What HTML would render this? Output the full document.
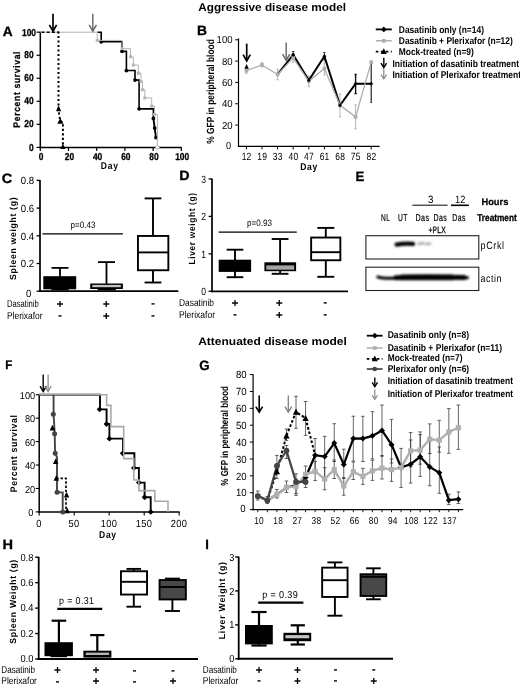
<!DOCTYPE html>
<html lang="en">
<head>
<meta charset="utf-8">
<title>Dasatinib and Plerixafor in aggressive and attenuated disease models</title>
<style>
html,body{margin:0;padding:0;background:#fff;}
svg{display:block;font-family:'Liberation Sans', sans-serif;text-rendering:geometricPrecision;filter:grayscale(1);}
</style>
</head>
<body>
<svg width="520" height="688" viewBox="0 0 520 688" font-family="'Liberation Sans', sans-serif">
<rect x="0" y="0" width="520" height="688" fill="#fff"/>
<text transform="translate(198.20 11.40) scale(1.0519 1)" font-size="11.2" font-weight="bold">Aggressive disease model</text>
<text transform="translate(198.20 345.20) scale(1.0901 1)" font-size="11.0" font-weight="bold">Attenuated disease model</text>
<text transform="translate(2.70 35.70) scale(1.0154 1)" font-size="13.5" font-weight="bold" stroke="#000" stroke-width="0.3">A</text>
<text transform="translate(197.00 35.30) scale(1.0257 1)" font-size="13.5" font-weight="bold" stroke="#000" stroke-width="0.3">B</text>
<text transform="translate(1.70 183.00) scale(1.0770 1)" font-size="13.5" font-weight="bold" stroke="#000" stroke-width="0.3">C</text>
<text transform="translate(179.20 180.30) scale(1.0565 1)" font-size="13.5" font-weight="bold" stroke="#000" stroke-width="0.3">D</text>
<text transform="translate(355.40 181.30) scale(0.9772 1)" font-size="13.5" font-weight="bold" stroke="#000" stroke-width="0.3">E</text>
<text transform="translate(5.20 368.90) scale(0.9241 1)" font-size="12.4" font-weight="bold" stroke="#000" stroke-width="0.3">F</text>
<text transform="translate(199.30 370.10) scale(0.9904 1)" font-size="13.5" font-weight="bold" stroke="#000" stroke-width="0.3">G</text>
<text transform="translate(2.60 548.80) scale(1.0770 1)" font-size="13.5" font-weight="bold" stroke="#000" stroke-width="0.3">H</text>
<text transform="translate(205.20 548.80) scale(0.9599 1)" font-size="13.5" font-weight="bold" stroke="#000" stroke-width="0.3">I</text>
<line x1="40.30" y1="31.70" x2="40.30" y2="148.15" stroke="#000" stroke-width="1.5"/>
<line x1="39.55" y1="147.40" x2="181.80" y2="147.40" stroke="#000" stroke-width="1.5"/>
<line x1="36.60" y1="147.40" x2="40.30" y2="147.40" stroke="#000" stroke-width="1.2"/>
<text transform="translate(33.70 150.90) scale(0.8400 1)" font-size="10.0" font-weight="bold" text-anchor="end" stroke="#000" stroke-width="0.3">0</text>
<line x1="36.60" y1="124.36" x2="40.30" y2="124.36" stroke="#000" stroke-width="1.2"/>
<text transform="translate(33.70 127.36) scale(0.8400 1)" font-size="10.0" font-weight="bold" text-anchor="end" stroke="#000" stroke-width="0.3">20</text>
<line x1="36.60" y1="101.32" x2="40.30" y2="101.32" stroke="#000" stroke-width="1.2"/>
<text transform="translate(33.70 104.32) scale(0.8400 1)" font-size="10.0" font-weight="bold" text-anchor="end" stroke="#000" stroke-width="0.3">40</text>
<line x1="36.60" y1="78.28" x2="40.30" y2="78.28" stroke="#000" stroke-width="1.2"/>
<text transform="translate(33.70 81.28) scale(0.8400 1)" font-size="10.0" font-weight="bold" text-anchor="end" stroke="#000" stroke-width="0.3">60</text>
<line x1="36.60" y1="55.24" x2="40.30" y2="55.24" stroke="#000" stroke-width="1.2"/>
<text transform="translate(33.70 58.24) scale(0.8400 1)" font-size="10.0" font-weight="bold" text-anchor="end" stroke="#000" stroke-width="0.3">80</text>
<line x1="36.60" y1="32.20" x2="40.30" y2="32.20" stroke="#000" stroke-width="1.2"/>
<text transform="translate(36.00 35.70) scale(0.8400 1)" font-size="10.0" font-weight="bold" text-anchor="end" stroke="#000" stroke-width="0.3">100</text>
<line x1="40.30" y1="147.40" x2="40.30" y2="151.00" stroke="#000" stroke-width="1.2"/>
<text transform="translate(41.20 160.20) scale(0.8400 1)" font-size="10.0" font-weight="bold" text-anchor="middle" stroke="#000" stroke-width="0.3">0</text>
<line x1="68.50" y1="147.40" x2="68.50" y2="151.00" stroke="#000" stroke-width="1.2"/>
<text transform="translate(69.40 160.20) scale(0.8400 1)" font-size="10.0" font-weight="bold" text-anchor="middle" stroke="#000" stroke-width="0.3">20</text>
<line x1="96.70" y1="147.40" x2="96.70" y2="151.00" stroke="#000" stroke-width="1.2"/>
<text transform="translate(97.60 160.20) scale(0.8400 1)" font-size="10.0" font-weight="bold" text-anchor="middle" stroke="#000" stroke-width="0.3">40</text>
<line x1="124.90" y1="147.40" x2="124.90" y2="151.00" stroke="#000" stroke-width="1.2"/>
<text transform="translate(125.80 160.20) scale(0.8400 1)" font-size="10.0" font-weight="bold" text-anchor="middle" stroke="#000" stroke-width="0.3">60</text>
<line x1="153.10" y1="147.40" x2="153.10" y2="151.00" stroke="#000" stroke-width="1.2"/>
<text transform="translate(154.00 160.20) scale(0.8400 1)" font-size="10.0" font-weight="bold" text-anchor="middle" stroke="#000" stroke-width="0.3">80</text>
<line x1="181.30" y1="147.40" x2="181.30" y2="151.00" stroke="#000" stroke-width="1.2"/>
<text transform="translate(182.20 160.20) scale(0.8400 1)" font-size="10.0" font-weight="bold" text-anchor="middle" stroke="#000" stroke-width="0.3">100</text>
<text transform="translate(109.70 169.30) scale(0.8735 1)" font-size="9.8" font-weight="bold" text-anchor="middle" letter-spacing="0.8">Day</text>
<text transform="translate(19.50 89.30) rotate(-90) scale(0.8995 1)" font-size="9.6" font-weight="bold" text-anchor="middle" letter-spacing="0.7" stroke="#000" stroke-width="0.2">Percent survival</text>
<polyline points="97.40,32.20 101.20,32.20 101.20,41.78 122.00,41.78 122.00,51.37 126.40,51.37 126.40,70.53 135.00,70.53 135.00,80.12 139.10,80.12 139.10,108.87 153.40,108.87 153.40,118.45" fill="none" stroke="#000" stroke-width="1.6" stroke-linejoin="miter"/>
<polyline points="153.40,118.45 154.70,128.03 156.00,137.62" fill="none" stroke="#000" stroke-width="1.9" stroke-linejoin="miter"/>
<circle cx="101.20" cy="41.78" r="1.9" fill="#000"/>
<circle cx="122.00" cy="51.37" r="1.9" fill="#000"/>
<circle cx="126.40" cy="70.53" r="1.9" fill="#000"/>
<circle cx="135.00" cy="80.12" r="1.9" fill="#000"/>
<circle cx="139.10" cy="108.87" r="1.9" fill="#000"/>
<circle cx="153.40" cy="118.45" r="1.9" fill="#000"/>
<circle cx="154.70" cy="128.03" r="1.9" fill="#000"/>
<circle cx="156.00" cy="137.62" r="1.9" fill="#000"/>
<polyline points="40.30,32.20 97.20,32.20 97.20,40.41 122.10,40.41 122.10,48.63 130.50,48.63 130.50,56.84 133.30,56.84 133.30,65.06 138.40,65.06 138.40,73.27 141.00,73.27 141.00,81.49 142.40,81.49 142.40,89.70 144.80,89.70 144.80,97.91 151.70,97.91 151.70,106.13 154.50,106.13 154.50,114.34 157.40,114.34 157.40,147.20" fill="none" stroke="#b4b4b4" stroke-width="1.0" stroke-linejoin="miter"/>
<rect x="95.70" y="38.91" width="3.00" height="3.00" fill="#b4b4b4"/>
<rect x="120.60" y="47.13" width="3.00" height="3.00" fill="#b4b4b4"/>
<rect x="129.00" y="55.34" width="3.00" height="3.00" fill="#b4b4b4"/>
<rect x="131.80" y="63.56" width="3.00" height="3.00" fill="#b4b4b4"/>
<rect x="136.90" y="71.77" width="3.00" height="3.00" fill="#b4b4b4"/>
<rect x="139.50" y="79.99" width="3.00" height="3.00" fill="#b4b4b4"/>
<rect x="140.90" y="88.20" width="3.00" height="3.00" fill="#b4b4b4"/>
<rect x="143.30" y="96.41" width="3.00" height="3.00" fill="#b4b4b4"/>
<rect x="150.20" y="104.63" width="3.00" height="3.00" fill="#b4b4b4"/>
<rect x="153.00" y="112.84" width="3.00" height="3.00" fill="#b4b4b4"/>
<circle cx="157.4" cy="147.4" r="1.8" fill="#fff" stroke="#b4b4b4" stroke-width="1"/>
<polyline points="41.50,32.20 58.50,32.20" fill="none" stroke="#000" stroke-width="1.6" stroke-linejoin="miter" stroke-dasharray="3 2.2"/>
<polyline points="58.50,31.40 58.50,110.50 60.30,121.00 62.90,122.60 62.90,147.40" fill="none" stroke="#000" stroke-width="2.0" stroke-linejoin="miter" stroke-dasharray="2.2 2.3"/>
<polygon points="58.60,105.15 61.20,111.35 56.00,111.35" fill="#000"/>
<polygon points="60.30,118.07 63.30,123.87 57.30,123.87" fill="#000"/>
<polygon points="62.90,143.79 65.50,148.99 60.30,148.99" fill="#000"/>
<line x1="53.00" y1="13.80" x2="53.00" y2="30.40" stroke="#000" stroke-width="1.7"/>
<polyline points="49.40,24.90 53.00,31.20 56.60,24.90" fill="none" stroke="#000" stroke-width="1.7" stroke-linejoin="miter"/>
<line x1="92.80" y1="13.80" x2="92.80" y2="30.40" stroke="#6c6c6c" stroke-width="1.5"/>
<polyline points="89.20,24.90 92.80,31.20 96.40,24.90" fill="none" stroke="#6c6c6c" stroke-width="1.5" stroke-linejoin="miter"/>
<line x1="238.50" y1="38.40" x2="238.50" y2="147.00" stroke="#000" stroke-width="1.2"/>
<line x1="237.90" y1="146.40" x2="379.60" y2="146.40" stroke="#000" stroke-width="1.3"/>
<line x1="235.20" y1="125.08" x2="238.50" y2="125.08" stroke="#000" stroke-width="1"/>
<text transform="translate(232.60 128.58) scale(0.9400 1)" font-size="10.2" text-anchor="end">20</text>
<line x1="235.20" y1="103.76" x2="238.50" y2="103.76" stroke="#000" stroke-width="1"/>
<text transform="translate(232.60 107.26) scale(0.9400 1)" font-size="10.2" text-anchor="end">40</text>
<line x1="235.20" y1="82.44" x2="238.50" y2="82.44" stroke="#000" stroke-width="1"/>
<text transform="translate(232.60 85.94) scale(0.9400 1)" font-size="10.2" text-anchor="end">60</text>
<line x1="235.20" y1="61.12" x2="238.50" y2="61.12" stroke="#000" stroke-width="1"/>
<text transform="translate(232.60 64.62) scale(0.9400 1)" font-size="10.2" text-anchor="end">80</text>
<line x1="235.20" y1="39.80" x2="238.50" y2="39.80" stroke="#000" stroke-width="1"/>
<text transform="translate(232.60 43.30) scale(0.9400 1)" font-size="10.2" text-anchor="end">100</text>
<text transform="translate(231.00 148.70) scale(0.9000 1)" font-size="10.2" text-anchor="end">0</text>
<line x1="246.40" y1="146.40" x2="246.40" y2="149.40" stroke="#000" stroke-width="1.0"/>
<text transform="translate(246.60 160.30) scale(0.8062 1)" font-size="10.5" text-anchor="middle" letter-spacing="0.3">12</text>
<line x1="262.00" y1="146.40" x2="262.00" y2="149.40" stroke="#000" stroke-width="1.0"/>
<text transform="translate(262.20 160.30) scale(0.8062 1)" font-size="10.5" text-anchor="middle" letter-spacing="0.3">19</text>
<line x1="277.60" y1="146.40" x2="277.60" y2="149.40" stroke="#000" stroke-width="1.0"/>
<text transform="translate(277.80 160.30) scale(0.8062 1)" font-size="10.5" text-anchor="middle" letter-spacing="0.3">33</text>
<line x1="293.20" y1="146.40" x2="293.20" y2="149.40" stroke="#000" stroke-width="1.0"/>
<text transform="translate(293.40 160.30) scale(0.8062 1)" font-size="10.5" text-anchor="middle" letter-spacing="0.3">40</text>
<line x1="308.80" y1="146.40" x2="308.80" y2="149.40" stroke="#000" stroke-width="1.0"/>
<text transform="translate(309.00 160.30) scale(0.8062 1)" font-size="10.5" text-anchor="middle" letter-spacing="0.3">47</text>
<line x1="324.40" y1="146.40" x2="324.40" y2="149.40" stroke="#000" stroke-width="1.0"/>
<text transform="translate(324.60 160.30) scale(0.8062 1)" font-size="10.5" text-anchor="middle" letter-spacing="0.3">61</text>
<line x1="340.00" y1="146.40" x2="340.00" y2="149.40" stroke="#000" stroke-width="1.0"/>
<text transform="translate(340.20 160.30) scale(0.8062 1)" font-size="10.5" text-anchor="middle" letter-spacing="0.3">68</text>
<line x1="355.60" y1="146.40" x2="355.60" y2="149.40" stroke="#000" stroke-width="1.0"/>
<text transform="translate(355.80 160.30) scale(0.8062 1)" font-size="10.5" text-anchor="middle" letter-spacing="0.3">75</text>
<line x1="371.20" y1="146.40" x2="371.20" y2="149.40" stroke="#000" stroke-width="1.0"/>
<text transform="translate(371.40 160.30) scale(0.8062 1)" font-size="10.5" text-anchor="middle" letter-spacing="0.3">82</text>
<text transform="translate(309.10 170.20) scale(0.8735 1)" font-size="9.8" font-weight="bold" text-anchor="middle" letter-spacing="0.8">Day</text>
<text transform="translate(214.40 91.50) rotate(-90) scale(0.8057 1)" font-size="10.4" font-weight="bold" text-anchor="middle">% GFP in peripheral blood</text>
<line x1="246.40" y1="68.05" x2="246.40" y2="73.38" stroke="#adadad" stroke-width="0.9"/>
<line x1="245.20" y1="68.05" x2="247.60" y2="68.05" stroke="#adadad" stroke-width="0.9"/>
<line x1="245.20" y1="73.38" x2="247.60" y2="73.38" stroke="#adadad" stroke-width="0.9"/>
<line x1="262.00" y1="62.72" x2="262.00" y2="66.98" stroke="#adadad" stroke-width="0.9"/>
<line x1="260.80" y1="62.72" x2="263.20" y2="62.72" stroke="#adadad" stroke-width="0.9"/>
<line x1="260.80" y1="66.98" x2="263.20" y2="66.98" stroke="#adadad" stroke-width="0.9"/>
<line x1="277.60" y1="69.11" x2="277.60" y2="79.78" stroke="#adadad" stroke-width="0.9"/>
<line x1="276.40" y1="69.11" x2="278.80" y2="69.11" stroke="#adadad" stroke-width="0.9"/>
<line x1="276.40" y1="79.78" x2="278.80" y2="79.78" stroke="#adadad" stroke-width="0.9"/>
<line x1="293.20" y1="53.66" x2="293.20" y2="62.19" stroke="#adadad" stroke-width="0.9"/>
<line x1="292.00" y1="53.66" x2="294.40" y2="53.66" stroke="#adadad" stroke-width="0.9"/>
<line x1="292.00" y1="62.19" x2="294.40" y2="62.19" stroke="#adadad" stroke-width="0.9"/>
<line x1="308.80" y1="76.04" x2="308.80" y2="86.70" stroke="#adadad" stroke-width="0.9"/>
<line x1="307.60" y1="76.04" x2="310.00" y2="76.04" stroke="#adadad" stroke-width="0.9"/>
<line x1="307.60" y1="86.70" x2="310.00" y2="86.70" stroke="#adadad" stroke-width="0.9"/>
<line x1="324.40" y1="62.19" x2="324.40" y2="74.98" stroke="#adadad" stroke-width="0.9"/>
<line x1="323.20" y1="62.19" x2="325.60" y2="62.19" stroke="#adadad" stroke-width="0.9"/>
<line x1="323.20" y1="74.98" x2="325.60" y2="74.98" stroke="#adadad" stroke-width="0.9"/>
<line x1="340.00" y1="93.95" x2="340.00" y2="116.77" stroke="#adadad" stroke-width="0.9"/>
<line x1="338.80" y1="93.95" x2="341.20" y2="93.95" stroke="#adadad" stroke-width="0.9"/>
<line x1="338.80" y1="116.77" x2="341.20" y2="116.77" stroke="#adadad" stroke-width="0.9"/>
<line x1="355.60" y1="104.93" x2="355.60" y2="128.81" stroke="#adadad" stroke-width="0.9"/>
<line x1="354.40" y1="104.93" x2="356.80" y2="104.93" stroke="#adadad" stroke-width="0.9"/>
<line x1="354.40" y1="128.81" x2="356.80" y2="128.81" stroke="#adadad" stroke-width="0.9"/>
<line x1="293.20" y1="51.53" x2="293.20" y2="57.92" stroke="#222" stroke-width="0.9"/>
<line x1="292.00" y1="51.53" x2="294.40" y2="51.53" stroke="#222" stroke-width="0.9"/>
<line x1="292.00" y1="57.92" x2="294.40" y2="57.92" stroke="#222" stroke-width="0.9"/>
<line x1="324.40" y1="52.59" x2="324.40" y2="60.05" stroke="#222" stroke-width="0.9"/>
<line x1="323.20" y1="52.59" x2="325.60" y2="52.59" stroke="#222" stroke-width="0.9"/>
<line x1="323.20" y1="60.05" x2="325.60" y2="60.05" stroke="#222" stroke-width="0.9"/>
<line x1="355.60" y1="74.40" x2="355.60" y2="93.60" stroke="#111" stroke-width="1.4"/>
<line x1="354.50" y1="74.40" x2="356.70" y2="74.40" stroke="#111" stroke-width="1.4"/>
<line x1="354.50" y1="93.60" x2="356.70" y2="93.60" stroke="#111" stroke-width="1.4"/>
<line x1="371.20" y1="61.90" x2="371.20" y2="102.50" stroke="#111" stroke-width="1.1"/>
<line x1="370.60" y1="61.90" x2="371.80" y2="61.90" stroke="#111" stroke-width="1.1"/>
<line x1="370.60" y1="102.50" x2="371.80" y2="102.50" stroke="#111" stroke-width="1.1"/>
<polyline points="277.60,74.45 293.20,54.72 308.80,80.31 324.40,56.22 340.00,105.36 355.60,83.72 371.20,83.72" fill="none" stroke="#000" stroke-width="2.0" stroke-linejoin="miter"/>
<polyline points="246.40,70.71 262.00,64.85 277.60,74.45 293.20,57.92 308.80,81.37 324.40,68.58 340.00,105.36 355.60,116.87 371.20,62.19" fill="none" stroke="#adadad" stroke-width="1.3" stroke-linejoin="miter"/>
<rect x="244.60" y="68.91" width="3.60" height="3.60" fill="#adadad"/>
<rect x="260.20" y="63.05" width="3.60" height="3.60" fill="#adadad"/>
<rect x="275.80" y="72.65" width="3.60" height="3.60" fill="#adadad"/>
<rect x="291.40" y="56.12" width="3.60" height="3.60" fill="#adadad"/>
<rect x="307.00" y="79.57" width="3.60" height="3.60" fill="#adadad"/>
<rect x="322.60" y="66.78" width="3.60" height="3.60" fill="#adadad"/>
<rect x="338.20" y="103.56" width="3.60" height="3.60" fill="#adadad"/>
<rect x="353.80" y="115.07" width="3.60" height="3.60" fill="#adadad"/>
<rect x="369.40" y="60.39" width="3.60" height="3.60" fill="#adadad"/>
<polygon points="293.20,52.72 295.20,54.72 293.20,56.72 291.20,54.72" fill="#000"/>
<polygon points="308.80,78.31 310.80,80.31 308.80,82.31 306.80,80.31" fill="#000"/>
<polygon points="324.40,54.22 326.40,56.22 324.40,58.22 322.40,56.22" fill="#000"/>
<polygon points="340.00,103.36 342.00,105.36 340.00,107.36 338.00,105.36" fill="#000"/>
<polygon points="355.60,81.72 357.60,83.72 355.60,85.72 353.60,83.72" fill="#000"/>
<polygon points="371.20,81.72 373.20,83.72 371.20,85.72 369.20,83.72" fill="#000"/>
<polygon points="246.60,63.99 248.80,68.83 244.40,68.83" fill="#000"/>
<line x1="246.70" y1="43.60" x2="246.70" y2="60.20" stroke="#000" stroke-width="1.7"/>
<polyline points="243.10,54.70 246.70,61.00 250.30,54.70" fill="none" stroke="#000" stroke-width="1.7" stroke-linejoin="miter"/>
<line x1="286.20" y1="42.60" x2="286.20" y2="59.60" stroke="#6c6c6c" stroke-width="1.5"/>
<polyline points="282.60,54.10 286.20,60.40 289.80,54.10" fill="none" stroke="#6c6c6c" stroke-width="1.5" stroke-linejoin="miter"/>
<line x1="375.80" y1="29.40" x2="391.80" y2="29.40" stroke="#000" stroke-width="1.8"/>
<polygon points="383.80,26.50 386.70,29.40 383.80,32.30 380.90,29.40" fill="#000"/>
<line x1="375.80" y1="40.80" x2="391.80" y2="40.80" stroke="#adadad" stroke-width="1.5"/>
<rect x="382.00" y="39.00" width="3.60" height="3.60" fill="#adadad"/>
<line x1="375.80" y1="51.60" x2="391.80" y2="51.60" stroke="#000" stroke-width="1.7" stroke-dasharray="2.6 2.4"/>
<polygon points="383.80,48.27 386.80,54.07 380.80,54.07" fill="#000"/>
<text transform="translate(398.80 33.00) scale(0.8620 1)" font-size="9.8" font-weight="bold">Dasatinib only (n=14)</text>
<text transform="translate(398.80 44.40) scale(0.8613 1)" font-size="9.8" font-weight="bold">Dasatinib + Plerixafor (n=12)</text>
<text transform="translate(398.80 55.40) scale(0.8581 1)" font-size="9.8" font-weight="bold">Mock-treated (n=9)</text>
<line x1="383.80" y1="57.80" x2="383.80" y2="66.80" stroke="#000" stroke-width="1.4"/>
<polyline points="381.00,63.20 383.80,67.60 386.60,63.20" fill="none" stroke="#000" stroke-width="1.4" stroke-linejoin="miter"/>
<line x1="383.80" y1="69.00" x2="383.80" y2="78.20" stroke="#888" stroke-width="1.2"/>
<polyline points="381.00,74.60 383.80,79.00 386.60,74.60" fill="none" stroke="#888" stroke-width="1.2" stroke-linejoin="miter"/>
<text transform="translate(392.50 66.60) scale(0.8669 1)" font-size="9.8" font-weight="bold">Initiation of dasatinib treatment</text>
<text transform="translate(392.50 78.00) scale(0.8676 1)" font-size="9.8" font-weight="bold">Initiation of Plerixafor treatment</text>
<line x1="40.00" y1="180.00" x2="40.00" y2="292.05" stroke="#000" stroke-width="1.7"/>
<line x1="39.15" y1="291.20" x2="178.30" y2="291.20" stroke="#000" stroke-width="1.7"/>
<line x1="36.60" y1="263.50" x2="40.00" y2="263.50" stroke="#000" stroke-width="1.3"/>
<text transform="translate(34.20 267.20) scale(0.9268 1)" font-size="10.4" text-anchor="end">0.2</text>
<line x1="36.60" y1="235.80" x2="40.00" y2="235.80" stroke="#000" stroke-width="1.3"/>
<text transform="translate(34.20 239.50) scale(0.9268 1)" font-size="10.4" text-anchor="end">0.4</text>
<line x1="36.60" y1="208.10" x2="40.00" y2="208.10" stroke="#000" stroke-width="1.3"/>
<text transform="translate(34.20 211.80) scale(0.9268 1)" font-size="10.4" text-anchor="end">0.6</text>
<line x1="36.60" y1="180.40" x2="40.00" y2="180.40" stroke="#000" stroke-width="1.3"/>
<text transform="translate(34.20 184.10) scale(0.9268 1)" font-size="10.4" text-anchor="end">0.8</text>
<line x1="36.60" y1="291.20" x2="40.00" y2="291.20" stroke="#000" stroke-width="1.3"/>
<text transform="translate(28.60 297.30) scale(0.9200 1)" font-size="10.4" text-anchor="middle">0</text>
<text transform="translate(16.40 238.40) rotate(-90) scale(0.9746 1)" font-size="8.9" font-weight="bold" text-anchor="middle" letter-spacing="0.7">Spleen weight (g)</text>
<line x1="42.40" y1="233.90" x2="122.90" y2="233.90" stroke="#000" stroke-width="1.3"/>
<text transform="translate(83.00 228.20) scale(0.8804 1)" font-size="9.2" text-anchor="middle">p=0.43</text>
<line x1="60.00" y1="267.90" x2="60.00" y2="277.20" stroke="#000" stroke-width="1.8"/>
<line x1="51.50" y1="267.90" x2="68.50" y2="267.90" stroke="#000" stroke-width="1.8"/>
<rect x="44.20" y="277.10" width="31.10" height="11.30" fill="#000" stroke="#000" stroke-width="1.8"/>
<line x1="51.40" y1="289.70" x2="68.60" y2="289.70" stroke="#000" stroke-width="1.4"/>
<line x1="106.50" y1="262.10" x2="106.50" y2="284.50" stroke="#000" stroke-width="1.8"/>
<line x1="98.00" y1="262.10" x2="115.00" y2="262.10" stroke="#000" stroke-width="1.8"/>
<rect x="90.20" y="283.50" width="32.70" height="5.50" fill="#000"/>
<rect x="92.30" y="284.90" width="28.50" height="2.30" fill="#c4c4c4"/>
<line x1="97.60" y1="289.70" x2="115.80" y2="289.70" stroke="#000" stroke-width="1.4"/>
<line x1="153.00" y1="198.40" x2="153.00" y2="236.00" stroke="#000" stroke-width="1.9"/>
<line x1="144.60" y1="198.40" x2="161.40" y2="198.40" stroke="#000" stroke-width="1.9"/>
<line x1="153.00" y1="270.20" x2="153.00" y2="282.50" stroke="#000" stroke-width="1.9"/>
<line x1="144.60" y1="282.50" x2="161.40" y2="282.50" stroke="#000" stroke-width="1.9"/>
<rect x="137.95" y="235.95" width="30.40" height="34.30" fill="#fff" stroke="#000" stroke-width="1.9"/>
<line x1="137.95" y1="252.40" x2="168.35" y2="252.40" stroke="#000" stroke-width="1.9"/>
<text transform="translate(7.00 306.80) scale(0.7628 1)" font-size="10">Dasatinib</text>
<text transform="translate(7.00 318.60) scale(0.8405 1)" font-size="10">Plerixafor</text>
<text transform="translate(60.00 308.00)" font-size="12.0" font-weight="bold" text-anchor="middle">+</text>
<text transform="translate(60.00 319.10)" font-size="12.0" font-weight="bold" text-anchor="middle">-</text>
<text transform="translate(106.30 308.00)" font-size="12.0" font-weight="bold" text-anchor="middle">+</text>
<text transform="translate(106.30 319.80)" font-size="12.0" font-weight="bold" text-anchor="middle">+</text>
<text transform="translate(153.00 307.30)" font-size="12.0" font-weight="bold" text-anchor="middle">-</text>
<text transform="translate(153.00 319.10)" font-size="12.0" font-weight="bold" text-anchor="middle">-</text>
<line x1="212.00" y1="178.55" x2="212.00" y2="292.15" stroke="#000" stroke-width="1.7"/>
<line x1="211.15" y1="291.30" x2="348.00" y2="291.30" stroke="#000" stroke-width="1.7"/>
<line x1="208.60" y1="291.30" x2="212.00" y2="291.30" stroke="#000" stroke-width="1.3"/>
<text transform="translate(203.60 295.00) scale(0.8200 1)" font-size="10.4" text-anchor="middle">0</text>
<line x1="208.60" y1="253.85" x2="212.00" y2="253.85" stroke="#000" stroke-width="1.3"/>
<text transform="translate(203.60 257.55) scale(0.8200 1)" font-size="10.4" text-anchor="middle">1</text>
<line x1="208.60" y1="216.40" x2="212.00" y2="216.40" stroke="#000" stroke-width="1.3"/>
<text transform="translate(203.60 220.10) scale(0.8200 1)" font-size="10.4" text-anchor="middle">2</text>
<line x1="208.60" y1="178.95" x2="212.00" y2="178.95" stroke="#000" stroke-width="1.3"/>
<text transform="translate(203.60 182.65) scale(0.8200 1)" font-size="10.4" text-anchor="middle">3</text>
<text transform="translate(194.60 228.40) rotate(-90) scale(0.9292 1)" font-size="9.0" font-weight="bold" text-anchor="middle" letter-spacing="0.7">Liver weight (g)</text>
<line x1="218.70" y1="232.10" x2="296.80" y2="232.10" stroke="#000" stroke-width="1.3"/>
<text transform="translate(259.50 226.40) scale(0.8804 1)" font-size="9.2" text-anchor="middle">p=0.93</text>
<line x1="235.00" y1="249.70" x2="235.00" y2="260.70" stroke="#000" stroke-width="1.9"/>
<line x1="226.70" y1="249.70" x2="243.30" y2="249.70" stroke="#000" stroke-width="1.9"/>
<line x1="235.00" y1="270.90" x2="235.00" y2="277.20" stroke="#000" stroke-width="1.9"/>
<line x1="226.70" y1="277.20" x2="243.30" y2="277.20" stroke="#000" stroke-width="1.9"/>
<rect x="219.65" y="260.65" width="30.50" height="10.30" fill="#000" stroke="#000" stroke-width="1.9"/>
<line x1="280.10" y1="239.00" x2="280.10" y2="263.30" stroke="#000" stroke-width="1.9"/>
<line x1="271.70" y1="239.00" x2="288.50" y2="239.00" stroke="#000" stroke-width="1.9"/>
<line x1="280.10" y1="270.20" x2="280.10" y2="273.80" stroke="#000" stroke-width="1.9"/>
<line x1="271.70" y1="273.80" x2="288.50" y2="273.80" stroke="#000" stroke-width="1.9"/>
<rect x="264.40" y="262.30" width="31.70" height="8.90" fill="#000"/>
<rect x="266.30" y="265.40" width="27.90" height="4.30" fill="#a4a4a4"/>
<line x1="325.80" y1="227.90" x2="325.80" y2="237.60" stroke="#000" stroke-width="1.9"/>
<line x1="317.30" y1="227.90" x2="334.30" y2="227.90" stroke="#000" stroke-width="1.9"/>
<line x1="325.80" y1="260.20" x2="325.80" y2="276.80" stroke="#000" stroke-width="1.9"/>
<line x1="317.30" y1="276.80" x2="334.30" y2="276.80" stroke="#000" stroke-width="1.9"/>
<rect x="311.15" y="237.55" width="29.20" height="22.70" fill="#fff" stroke="#000" stroke-width="1.9"/>
<line x1="311.15" y1="252.20" x2="340.35" y2="252.20" stroke="#000" stroke-width="1.9"/>
<text transform="translate(179.00 305.60) scale(0.8395 1)" font-size="10">Dasatinib</text>
<text transform="translate(179.00 317.60) scale(0.8523 1)" font-size="10">Plerixafor</text>
<text transform="translate(234.90 306.80)" font-size="12.0" font-weight="bold" text-anchor="middle">+</text>
<text transform="translate(234.90 318.10)" font-size="12.0" font-weight="bold" text-anchor="middle">-</text>
<text transform="translate(279.20 306.80)" font-size="12.0" font-weight="bold" text-anchor="middle">+</text>
<text transform="translate(279.20 318.80)" font-size="12.0" font-weight="bold" text-anchor="middle">+</text>
<text transform="translate(325.20 306.10)" font-size="12.0" font-weight="bold" text-anchor="middle">-</text>
<text transform="translate(325.20 318.10)" font-size="12.0" font-weight="bold" text-anchor="middle">-</text>
<text transform="translate(430.80 202.80) scale(0.9200 1)" font-size="10.6" text-anchor="middle">3</text>
<text transform="translate(460.30 202.80) scale(0.8716 1)" font-size="10.6" text-anchor="middle" letter-spacing="0.3">12</text>
<line x1="412.30" y1="205.20" x2="447.60" y2="205.20" stroke="#000" stroke-width="1.0"/>
<line x1="451.00" y1="205.30" x2="468.90" y2="205.30" stroke="#000" stroke-width="1.6"/>
<text transform="translate(481.50 205.40) scale(0.9662 1)" font-size="9.6" font-weight="bold" stroke="#000" stroke-width="0.25">Hours</text>
<text transform="translate(477.20 221.30) scale(0.8455 1)" font-size="9.8" font-weight="bold" stroke="#000" stroke-width="0.3">Treatment</text>
<text transform="translate(385.60 221.00) scale(0.6640 1)" font-size="9.9" text-anchor="middle" letter-spacing="0.6" stroke="#000" stroke-width="0.2">NL</text>
<text transform="translate(403.00 221.00) scale(0.6807 1)" font-size="9.9" text-anchor="middle" letter-spacing="0.6" stroke="#000" stroke-width="0.2">UT</text>
<text transform="translate(422.40 221.00) scale(0.7214 1)" font-size="9.9" text-anchor="middle" letter-spacing="0.6" stroke="#000" stroke-width="0.2">Das</text>
<text transform="translate(440.30 221.00) scale(0.7111 1)" font-size="9.9" text-anchor="middle" letter-spacing="0.6" stroke="#000" stroke-width="0.2">Das</text>
<text transform="translate(459.10 221.00) scale(0.7008 1)" font-size="9.9" text-anchor="middle" letter-spacing="0.6" stroke="#000" stroke-width="0.2">Das</text>
<text transform="translate(437.20 232.50) scale(0.7224 1)" font-size="9.2" text-anchor="middle" letter-spacing="0.4" stroke="#000" stroke-width="0.3">+PLX</text>
<rect x="365.90" y="235.70" width="112.90" height="23.30" fill="#fff" stroke="#222" stroke-width="1.1"/>
<rect x="365.90" y="267.20" width="112.90" height="23.30" fill="#fff" stroke="#222" stroke-width="1.1"/>
<defs><filter id="bl" x="-10%" y="-100%" width="120%" height="300%"><feGaussianBlur stdDeviation="0.95"/></filter></defs>
<g filter="url(#bl)" fill="none" stroke-linecap="round">
<path d="M396.6 244.6 Q404 243.0 413.2 243.8" stroke="#000" stroke-width="4.3"/>
<path d="M418.5 243.8 L423.5 243.3 M426.5 244.0 L430 243.8" stroke="#b4b4b4" stroke-width="3.0"/>
<path d="M377.8 277.0 Q384 278.8 391 278.2 L467.5 277.8" stroke="#000" stroke-width="3.0"/>
<path d="M396 277.8 Q422 276.4 464 277.6" stroke="#000" stroke-width="5.0"/>
<path d="M402 277.4 L452 277.4" stroke="#000" stroke-width="5.8"/>
</g>
<text transform="translate(480.50 249.20) scale(0.8421 1)" font-size="10.6" letter-spacing="0.8">pCrkl</text>
<text transform="translate(480.60 282.00) scale(0.8428 1)" font-size="10.6" letter-spacing="0.6">actin</text>
<line x1="39.20" y1="394.30" x2="39.20" y2="512.65" stroke="#000" stroke-width="1.5"/>
<line x1="38.45" y1="511.90" x2="179.70" y2="511.90" stroke="#000" stroke-width="1.5"/>
<line x1="35.70" y1="511.90" x2="39.20" y2="511.90" stroke="#000" stroke-width="1.1"/>
<text transform="translate(33.40 516.00) scale(0.9200 1)" font-size="10.0" text-anchor="end">0</text>
<line x1="35.70" y1="488.46" x2="39.20" y2="488.46" stroke="#000" stroke-width="1.1"/>
<text transform="translate(35.20 492.56) scale(0.9200 1)" font-size="10.0" text-anchor="end">20</text>
<line x1="35.70" y1="465.02" x2="39.20" y2="465.02" stroke="#000" stroke-width="1.1"/>
<text transform="translate(35.20 469.12) scale(0.9200 1)" font-size="10.0" text-anchor="end">40</text>
<line x1="35.70" y1="441.58" x2="39.20" y2="441.58" stroke="#000" stroke-width="1.1"/>
<text transform="translate(35.20 445.68) scale(0.9200 1)" font-size="10.0" text-anchor="end">60</text>
<line x1="35.70" y1="418.14" x2="39.20" y2="418.14" stroke="#000" stroke-width="1.1"/>
<text transform="translate(35.20 422.24) scale(0.9200 1)" font-size="10.0" text-anchor="end">80</text>
<line x1="35.70" y1="394.70" x2="39.20" y2="394.70" stroke="#000" stroke-width="1.1"/>
<text transform="translate(35.20 398.80) scale(0.9200 1)" font-size="10.0" text-anchor="end">100</text>
<line x1="39.20" y1="511.90" x2="39.20" y2="515.50" stroke="#000" stroke-width="1.1"/>
<text transform="translate(39.00 527.30) scale(0.9000 1)" font-size="10.3" text-anchor="middle" letter-spacing="0.3">0</text>
<line x1="74.20" y1="511.90" x2="74.20" y2="515.50" stroke="#000" stroke-width="1.1"/>
<text transform="translate(74.00 527.30) scale(0.9000 1)" font-size="10.3" text-anchor="middle" letter-spacing="0.3">50</text>
<line x1="109.20" y1="511.90" x2="109.20" y2="515.50" stroke="#000" stroke-width="1.1"/>
<text transform="translate(109.00 527.30) scale(0.9000 1)" font-size="10.3" text-anchor="middle" letter-spacing="0.3">100</text>
<line x1="144.20" y1="511.90" x2="144.20" y2="515.50" stroke="#000" stroke-width="1.1"/>
<text transform="translate(144.00 527.30) scale(0.9000 1)" font-size="10.3" text-anchor="middle" letter-spacing="0.3">150</text>
<line x1="179.20" y1="511.90" x2="179.20" y2="515.50" stroke="#000" stroke-width="1.1"/>
<text transform="translate(179.00 527.30) scale(0.9000 1)" font-size="10.3" text-anchor="middle" letter-spacing="0.3">200</text>
<text transform="translate(107.90 538.30) scale(0.8686 1)" font-size="9.8" font-weight="bold" text-anchor="middle" letter-spacing="0.8">Day</text>
<text transform="translate(17.40 453.30) rotate(-90) scale(0.9184 1)" font-size="9.5" font-weight="bold" text-anchor="middle" letter-spacing="0.7">Percent survival</text>
<polyline points="39.20,394.70 100.00,394.70 100.00,409.35 106.60,409.35 106.60,424.00 109.40,424.00 109.40,438.65 123.00,438.65 123.00,453.30 134.40,453.30 134.40,467.95 138.90,467.95 138.90,482.60 144.60,482.60 144.60,497.25 150.70,497.25 150.70,511.90" fill="none" stroke="#000" stroke-width="1.9" stroke-linejoin="miter"/>
<polygon points="99.60,406.45 102.50,409.35 99.60,412.25 96.70,409.35" fill="#000"/>
<polygon points="106.50,421.10 109.40,424.00 106.50,426.90 103.60,424.00" fill="#000"/>
<polygon points="109.40,435.75 112.30,438.65 109.40,441.55 106.50,438.65" fill="#000"/>
<polygon points="122.70,450.40 125.60,453.30 122.70,456.20 119.80,453.30" fill="#000"/>
<polygon points="133.90,465.05 136.80,467.95 133.90,470.85 131.00,467.95" fill="#000"/>
<polygon points="138.90,479.70 141.80,482.60 138.90,485.50 136.00,482.60" fill="#000"/>
<polygon points="144.60,494.35 147.50,497.25 144.60,500.15 141.70,497.25" fill="#000"/>
<polygon points="150.70,509.00 153.60,511.90 150.70,514.80 147.80,511.90" fill="#000"/>
<polyline points="39.20,394.70 106.60,394.70 106.60,405.35 110.90,405.35 110.90,426.66 123.70,426.66 123.70,458.63 133.80,458.63 133.80,479.94 138.90,479.94 138.90,490.59 154.80,490.59 154.80,501.25 168.00,501.25 168.00,511.90" fill="none" stroke="#a8a8a8" stroke-width="1.6" stroke-linejoin="miter"/>
<polyline points="56.30,478.38 66.00,478.38 66.00,511.90" fill="none" stroke="#000" stroke-width="1.7" stroke-linejoin="miter" stroke-dasharray="2.4 1.8"/>
<polyline points="53.60,394.70 53.60,414.27 54.70,433.73 55.10,453.30 57.00,457.30 57.00,492.33 62.70,492.33 62.70,511.90" fill="none" stroke="#444" stroke-width="1.9" stroke-linejoin="miter"/>
<polygon points="52.40,424.79 55.10,430.59 49.70,430.59" fill="#000"/>
<polygon points="55.70,458.19 58.40,463.99 53.00,463.99" fill="#000"/>
<polygon points="56.30,474.95 59.00,480.75 53.60,480.75" fill="#000"/>
<polygon points="66.60,491.71 69.30,497.51 63.90,497.51" fill="#000"/>
<polygon points="67.20,507.53 69.90,513.33 64.50,513.33" fill="#000"/>
<circle cx="53.30" cy="414.27" r="2.5" fill="#444"/>
<circle cx="54.60" cy="433.73" r="2.5" fill="#444"/>
<circle cx="55.20" cy="453.30" r="2.5" fill="#444"/>
<circle cx="57.10" cy="492.33" r="2.5" fill="#444"/>
<circle cx="62.80" cy="511.90" r="2.5" fill="#444"/>
<line x1="43.20" y1="374.40" x2="43.20" y2="390.80" stroke="#000" stroke-width="1.4"/>
<polyline points="40.10,386.20 43.20,391.60 46.30,386.20" fill="none" stroke="#000" stroke-width="1.4" stroke-linejoin="miter"/>
<line x1="48.10" y1="374.40" x2="48.10" y2="390.80" stroke="#808080" stroke-width="1.2"/>
<polyline points="45.00,386.20 48.10,391.60 51.20,386.20" fill="none" stroke="#808080" stroke-width="1.2" stroke-linejoin="miter"/>
<line x1="253.10" y1="374.20" x2="253.10" y2="510.20" stroke="#000" stroke-width="1.2"/>
<line x1="252.50" y1="509.60" x2="463.20" y2="509.60" stroke="#000" stroke-width="1.2"/>
<line x1="249.90" y1="509.60" x2="253.10" y2="509.60" stroke="#000" stroke-width="1"/>
<text transform="translate(245.60 512.40) scale(0.9200 1)" font-size="10.4" text-anchor="end">0</text>
<line x1="249.90" y1="492.73" x2="253.10" y2="492.73" stroke="#000" stroke-width="1"/>
<text transform="translate(246.60 496.43) scale(0.9200 1)" font-size="10.4" text-anchor="end">10</text>
<line x1="249.90" y1="475.85" x2="253.10" y2="475.85" stroke="#000" stroke-width="1"/>
<text transform="translate(246.60 479.55) scale(0.9200 1)" font-size="10.4" text-anchor="end">20</text>
<line x1="249.90" y1="458.98" x2="253.10" y2="458.98" stroke="#000" stroke-width="1"/>
<text transform="translate(246.60 462.68) scale(0.9200 1)" font-size="10.4" text-anchor="end">30</text>
<line x1="249.90" y1="442.10" x2="253.10" y2="442.10" stroke="#000" stroke-width="1"/>
<text transform="translate(246.60 445.80) scale(0.9200 1)" font-size="10.4" text-anchor="end">40</text>
<line x1="249.90" y1="425.23" x2="253.10" y2="425.23" stroke="#000" stroke-width="1"/>
<text transform="translate(246.60 428.93) scale(0.9200 1)" font-size="10.4" text-anchor="end">50</text>
<line x1="249.90" y1="408.35" x2="253.10" y2="408.35" stroke="#000" stroke-width="1"/>
<text transform="translate(246.60 412.05) scale(0.9200 1)" font-size="10.4" text-anchor="end">60</text>
<line x1="249.90" y1="391.48" x2="253.10" y2="391.48" stroke="#000" stroke-width="1"/>
<text transform="translate(246.60 395.18) scale(0.9200 1)" font-size="10.4" text-anchor="end">70</text>
<line x1="249.90" y1="374.60" x2="253.10" y2="374.60" stroke="#000" stroke-width="1"/>
<text transform="translate(246.60 378.30) scale(0.9200 1)" font-size="10.4" text-anchor="end">80</text>
<line x1="257.80" y1="509.60" x2="257.80" y2="512.20" stroke="#000" stroke-width="0.9"/>
<line x1="267.35" y1="509.60" x2="267.35" y2="512.20" stroke="#000" stroke-width="0.9"/>
<line x1="276.90" y1="509.60" x2="276.90" y2="512.20" stroke="#000" stroke-width="0.9"/>
<line x1="286.46" y1="509.60" x2="286.46" y2="512.20" stroke="#000" stroke-width="0.9"/>
<line x1="296.01" y1="509.60" x2="296.01" y2="512.20" stroke="#000" stroke-width="0.9"/>
<line x1="305.56" y1="509.60" x2="305.56" y2="512.20" stroke="#000" stroke-width="0.9"/>
<line x1="315.11" y1="509.60" x2="315.11" y2="512.20" stroke="#000" stroke-width="0.9"/>
<line x1="324.66" y1="509.60" x2="324.66" y2="512.20" stroke="#000" stroke-width="0.9"/>
<line x1="334.22" y1="509.60" x2="334.22" y2="512.20" stroke="#000" stroke-width="0.9"/>
<line x1="343.77" y1="509.60" x2="343.77" y2="512.20" stroke="#000" stroke-width="0.9"/>
<line x1="353.32" y1="509.60" x2="353.32" y2="512.20" stroke="#000" stroke-width="0.9"/>
<line x1="362.87" y1="509.60" x2="362.87" y2="512.20" stroke="#000" stroke-width="0.9"/>
<line x1="372.42" y1="509.60" x2="372.42" y2="512.20" stroke="#000" stroke-width="0.9"/>
<line x1="381.98" y1="509.60" x2="381.98" y2="512.20" stroke="#000" stroke-width="0.9"/>
<line x1="391.53" y1="509.60" x2="391.53" y2="512.20" stroke="#000" stroke-width="0.9"/>
<line x1="401.08" y1="509.60" x2="401.08" y2="512.20" stroke="#000" stroke-width="0.9"/>
<line x1="410.63" y1="509.60" x2="410.63" y2="512.20" stroke="#000" stroke-width="0.9"/>
<line x1="420.18" y1="509.60" x2="420.18" y2="512.20" stroke="#000" stroke-width="0.9"/>
<line x1="429.74" y1="509.60" x2="429.74" y2="512.20" stroke="#000" stroke-width="0.9"/>
<line x1="439.29" y1="509.60" x2="439.29" y2="512.20" stroke="#000" stroke-width="0.9"/>
<line x1="448.84" y1="509.60" x2="448.84" y2="512.20" stroke="#000" stroke-width="0.9"/>
<line x1="458.39" y1="509.60" x2="458.39" y2="512.20" stroke="#000" stroke-width="0.9"/>
<text transform="translate(259.10 523.90) scale(0.8359 1)" font-size="10.0" text-anchor="middle" letter-spacing="0.3">10</text>
<text transform="translate(278.20 523.90) scale(0.8359 1)" font-size="10.0" text-anchor="middle" letter-spacing="0.3">18</text>
<text transform="translate(297.31 523.90) scale(0.8359 1)" font-size="10.0" text-anchor="middle" letter-spacing="0.3">27</text>
<text transform="translate(316.41 523.90) scale(0.8359 1)" font-size="10.0" text-anchor="middle" letter-spacing="0.3">38</text>
<text transform="translate(335.52 523.90) scale(0.8359 1)" font-size="10.0" text-anchor="middle" letter-spacing="0.3">52</text>
<text transform="translate(354.62 523.90) scale(0.8359 1)" font-size="10.0" text-anchor="middle" letter-spacing="0.3">66</text>
<text transform="translate(373.72 523.90) scale(0.8359 1)" font-size="10.0" text-anchor="middle" letter-spacing="0.3">80</text>
<text transform="translate(392.83 523.90) scale(0.8359 1)" font-size="10.0" text-anchor="middle" letter-spacing="0.3">94</text>
<text transform="translate(411.43 523.90) scale(0.8189 1)" font-size="10.0" text-anchor="middle" letter-spacing="0.3">108</text>
<text transform="translate(430.54 523.90) scale(0.8189 1)" font-size="10.0" text-anchor="middle" letter-spacing="0.3">122</text>
<text transform="translate(449.64 523.90) scale(0.8189 1)" font-size="10.0" text-anchor="middle" letter-spacing="0.3">137</text>
<text transform="translate(227.80 435.90) rotate(-90) scale(0.7830 1)" font-size="10.2" font-weight="bold" text-anchor="middle">% GFP in peripheral blood</text>
<line x1="286.46" y1="429.00" x2="286.46" y2="440.60" stroke="#333" stroke-width="0.75"/>
<line x1="284.66" y1="429.00" x2="288.26" y2="429.00" stroke="#333" stroke-width="0.75"/>
<line x1="284.66" y1="440.60" x2="288.26" y2="440.60" stroke="#333" stroke-width="0.75"/>
<line x1="296.01" y1="396.30" x2="296.01" y2="428.30" stroke="#333" stroke-width="0.75"/>
<line x1="294.21" y1="396.30" x2="297.81" y2="396.30" stroke="#333" stroke-width="0.75"/>
<line x1="294.21" y1="428.30" x2="297.81" y2="428.30" stroke="#333" stroke-width="0.75"/>
<line x1="305.56" y1="401.50" x2="305.56" y2="435.40" stroke="#333" stroke-width="0.75"/>
<line x1="303.76" y1="401.50" x2="307.36" y2="401.50" stroke="#333" stroke-width="0.75"/>
<line x1="303.76" y1="435.40" x2="307.36" y2="435.40" stroke="#333" stroke-width="0.75"/>
<line x1="276.90" y1="455.40" x2="276.90" y2="478.50" stroke="#333" stroke-width="0.75"/>
<line x1="275.10" y1="455.40" x2="278.70" y2="455.40" stroke="#333" stroke-width="0.75"/>
<line x1="275.10" y1="478.50" x2="278.70" y2="478.50" stroke="#333" stroke-width="0.75"/>
<line x1="286.46" y1="445.50" x2="286.46" y2="458.50" stroke="#333" stroke-width="0.75"/>
<line x1="284.66" y1="445.50" x2="288.26" y2="445.50" stroke="#333" stroke-width="0.75"/>
<line x1="284.66" y1="458.50" x2="288.26" y2="458.50" stroke="#333" stroke-width="0.75"/>
<line x1="296.01" y1="473.80" x2="296.01" y2="495.40" stroke="#333" stroke-width="0.75"/>
<line x1="294.21" y1="473.80" x2="297.81" y2="473.80" stroke="#333" stroke-width="0.75"/>
<line x1="294.21" y1="495.40" x2="297.81" y2="495.40" stroke="#333" stroke-width="0.75"/>
<line x1="305.56" y1="475.50" x2="305.56" y2="487.50" stroke="#333" stroke-width="0.75"/>
<line x1="303.76" y1="475.50" x2="307.36" y2="475.50" stroke="#333" stroke-width="0.75"/>
<line x1="303.76" y1="487.50" x2="307.36" y2="487.50" stroke="#333" stroke-width="0.75"/>
<line x1="257.80" y1="491.00" x2="257.80" y2="500.00" stroke="#333" stroke-width="0.75"/>
<line x1="256.00" y1="491.00" x2="259.60" y2="491.00" stroke="#333" stroke-width="0.75"/>
<line x1="256.00" y1="500.00" x2="259.60" y2="500.00" stroke="#333" stroke-width="0.75"/>
<line x1="267.35" y1="496.50" x2="267.35" y2="503.50" stroke="#333" stroke-width="0.75"/>
<line x1="265.55" y1="496.50" x2="269.15" y2="496.50" stroke="#333" stroke-width="0.75"/>
<line x1="265.55" y1="503.50" x2="269.15" y2="503.50" stroke="#333" stroke-width="0.75"/>
<line x1="315.11" y1="438.50" x2="315.11" y2="470.80" stroke="#333" stroke-width="0.75"/>
<line x1="313.31" y1="438.50" x2="316.91" y2="438.50" stroke="#333" stroke-width="0.75"/>
<line x1="313.31" y1="470.80" x2="316.91" y2="470.80" stroke="#333" stroke-width="0.75"/>
<line x1="324.66" y1="436.30" x2="324.66" y2="476.90" stroke="#333" stroke-width="0.75"/>
<line x1="322.86" y1="436.30" x2="326.46" y2="436.30" stroke="#333" stroke-width="0.75"/>
<line x1="322.86" y1="476.90" x2="326.46" y2="476.90" stroke="#333" stroke-width="0.75"/>
<line x1="334.22" y1="423.70" x2="334.22" y2="461.50" stroke="#333" stroke-width="0.75"/>
<line x1="332.42" y1="423.70" x2="336.02" y2="423.70" stroke="#333" stroke-width="0.75"/>
<line x1="332.42" y1="461.50" x2="336.02" y2="461.50" stroke="#333" stroke-width="0.75"/>
<line x1="343.77" y1="449.20" x2="343.77" y2="478.50" stroke="#333" stroke-width="0.75"/>
<line x1="341.97" y1="449.20" x2="345.57" y2="449.20" stroke="#333" stroke-width="0.75"/>
<line x1="341.97" y1="478.50" x2="345.57" y2="478.50" stroke="#333" stroke-width="0.75"/>
<line x1="353.32" y1="416.20" x2="353.32" y2="461.00" stroke="#333" stroke-width="0.75"/>
<line x1="351.52" y1="416.20" x2="355.12" y2="416.20" stroke="#333" stroke-width="0.75"/>
<line x1="351.52" y1="461.00" x2="355.12" y2="461.00" stroke="#333" stroke-width="0.75"/>
<line x1="362.87" y1="416.30" x2="362.87" y2="461.50" stroke="#333" stroke-width="0.75"/>
<line x1="361.07" y1="416.30" x2="364.67" y2="416.30" stroke="#333" stroke-width="0.75"/>
<line x1="361.07" y1="461.50" x2="364.67" y2="461.50" stroke="#333" stroke-width="0.75"/>
<line x1="372.42" y1="411.70" x2="372.42" y2="458.90" stroke="#333" stroke-width="0.75"/>
<line x1="370.62" y1="411.70" x2="374.22" y2="411.70" stroke="#333" stroke-width="0.75"/>
<line x1="370.62" y1="458.90" x2="374.22" y2="458.90" stroke="#333" stroke-width="0.75"/>
<line x1="381.98" y1="405.00" x2="381.98" y2="456.20" stroke="#333" stroke-width="0.75"/>
<line x1="380.18" y1="405.00" x2="383.78" y2="405.00" stroke="#333" stroke-width="0.75"/>
<line x1="380.18" y1="456.20" x2="383.78" y2="456.20" stroke="#333" stroke-width="0.75"/>
<line x1="391.53" y1="419.40" x2="391.53" y2="463.00" stroke="#333" stroke-width="0.75"/>
<line x1="389.73" y1="419.40" x2="393.33" y2="419.40" stroke="#333" stroke-width="0.75"/>
<line x1="389.73" y1="463.00" x2="393.33" y2="463.00" stroke="#333" stroke-width="0.75"/>
<line x1="401.08" y1="448.40" x2="401.08" y2="487.40" stroke="#333" stroke-width="0.75"/>
<line x1="399.28" y1="448.40" x2="402.88" y2="448.40" stroke="#333" stroke-width="0.75"/>
<line x1="399.28" y1="487.40" x2="402.88" y2="487.40" stroke="#333" stroke-width="0.75"/>
<line x1="410.63" y1="440.00" x2="410.63" y2="483.10" stroke="#333" stroke-width="0.75"/>
<line x1="408.83" y1="440.00" x2="412.43" y2="440.00" stroke="#333" stroke-width="0.75"/>
<line x1="408.83" y1="483.10" x2="412.43" y2="483.10" stroke="#333" stroke-width="0.75"/>
<line x1="420.18" y1="431.90" x2="420.18" y2="476.40" stroke="#333" stroke-width="0.75"/>
<line x1="418.38" y1="431.90" x2="421.98" y2="431.90" stroke="#333" stroke-width="0.75"/>
<line x1="418.38" y1="476.40" x2="421.98" y2="476.40" stroke="#333" stroke-width="0.75"/>
<line x1="429.74" y1="440.00" x2="429.74" y2="485.80" stroke="#333" stroke-width="0.75"/>
<line x1="427.94" y1="440.00" x2="431.54" y2="440.00" stroke="#333" stroke-width="0.75"/>
<line x1="427.94" y1="485.80" x2="431.54" y2="485.80" stroke="#333" stroke-width="0.75"/>
<line x1="439.29" y1="447.00" x2="439.29" y2="493.30" stroke="#333" stroke-width="0.75"/>
<line x1="437.49" y1="447.00" x2="441.09" y2="447.00" stroke="#333" stroke-width="0.75"/>
<line x1="437.49" y1="493.30" x2="441.09" y2="493.30" stroke="#333" stroke-width="0.75"/>
<line x1="448.84" y1="494.20" x2="448.84" y2="504.60" stroke="#333" stroke-width="0.75"/>
<line x1="447.04" y1="494.20" x2="450.64" y2="494.20" stroke="#333" stroke-width="0.75"/>
<line x1="447.04" y1="504.60" x2="450.64" y2="504.60" stroke="#333" stroke-width="0.75"/>
<line x1="458.39" y1="491.90" x2="458.39" y2="503.50" stroke="#333" stroke-width="0.75"/>
<line x1="456.59" y1="491.90" x2="460.19" y2="491.90" stroke="#333" stroke-width="0.75"/>
<line x1="456.59" y1="503.50" x2="460.19" y2="503.50" stroke="#333" stroke-width="0.75"/>
<line x1="276.90" y1="489.50" x2="276.90" y2="498.00" stroke="#333" stroke-width="0.75"/>
<line x1="275.10" y1="489.50" x2="278.70" y2="489.50" stroke="#333" stroke-width="0.75"/>
<line x1="275.10" y1="498.00" x2="278.70" y2="498.00" stroke="#333" stroke-width="0.75"/>
<line x1="286.46" y1="481.00" x2="286.46" y2="492.50" stroke="#333" stroke-width="0.75"/>
<line x1="284.66" y1="481.00" x2="288.26" y2="481.00" stroke="#333" stroke-width="0.75"/>
<line x1="284.66" y1="492.50" x2="288.26" y2="492.50" stroke="#333" stroke-width="0.75"/>
<line x1="296.01" y1="479.00" x2="296.01" y2="493.50" stroke="#333" stroke-width="0.75"/>
<line x1="294.21" y1="479.00" x2="297.81" y2="479.00" stroke="#333" stroke-width="0.75"/>
<line x1="294.21" y1="493.50" x2="297.81" y2="493.50" stroke="#333" stroke-width="0.75"/>
<line x1="305.56" y1="466.00" x2="305.56" y2="481.50" stroke="#333" stroke-width="0.75"/>
<line x1="303.76" y1="466.00" x2="307.36" y2="466.00" stroke="#333" stroke-width="0.75"/>
<line x1="303.76" y1="481.50" x2="307.36" y2="481.50" stroke="#333" stroke-width="0.75"/>
<line x1="315.11" y1="461.50" x2="315.11" y2="480.60" stroke="#333" stroke-width="0.75"/>
<line x1="313.31" y1="461.50" x2="316.91" y2="461.50" stroke="#333" stroke-width="0.75"/>
<line x1="313.31" y1="480.60" x2="316.91" y2="480.60" stroke="#333" stroke-width="0.75"/>
<line x1="324.66" y1="467.70" x2="324.66" y2="489.80" stroke="#333" stroke-width="0.75"/>
<line x1="322.86" y1="467.70" x2="326.46" y2="467.70" stroke="#333" stroke-width="0.75"/>
<line x1="322.86" y1="489.80" x2="326.46" y2="489.80" stroke="#333" stroke-width="0.75"/>
<line x1="334.22" y1="460.00" x2="334.22" y2="478.50" stroke="#333" stroke-width="0.75"/>
<line x1="332.42" y1="460.00" x2="336.02" y2="460.00" stroke="#333" stroke-width="0.75"/>
<line x1="332.42" y1="478.50" x2="336.02" y2="478.50" stroke="#333" stroke-width="0.75"/>
<line x1="343.77" y1="477.70" x2="343.77" y2="495.20" stroke="#333" stroke-width="0.75"/>
<line x1="341.97" y1="477.70" x2="345.57" y2="477.70" stroke="#333" stroke-width="0.75"/>
<line x1="341.97" y1="495.20" x2="345.57" y2="495.20" stroke="#333" stroke-width="0.75"/>
<line x1="353.32" y1="462.00" x2="353.32" y2="479.50" stroke="#333" stroke-width="0.75"/>
<line x1="351.52" y1="462.00" x2="355.12" y2="462.00" stroke="#333" stroke-width="0.75"/>
<line x1="351.52" y1="479.50" x2="355.12" y2="479.50" stroke="#333" stroke-width="0.75"/>
<line x1="362.87" y1="468.30" x2="362.87" y2="484.40" stroke="#333" stroke-width="0.75"/>
<line x1="361.07" y1="468.30" x2="364.67" y2="468.30" stroke="#333" stroke-width="0.75"/>
<line x1="361.07" y1="484.40" x2="364.67" y2="484.40" stroke="#333" stroke-width="0.75"/>
<line x1="372.42" y1="460.20" x2="372.42" y2="480.40" stroke="#333" stroke-width="0.75"/>
<line x1="370.62" y1="460.20" x2="374.22" y2="460.20" stroke="#333" stroke-width="0.75"/>
<line x1="370.62" y1="480.40" x2="374.22" y2="480.40" stroke="#333" stroke-width="0.75"/>
<line x1="381.98" y1="455.60" x2="381.98" y2="479.00" stroke="#333" stroke-width="0.75"/>
<line x1="380.18" y1="455.60" x2="383.78" y2="455.60" stroke="#333" stroke-width="0.75"/>
<line x1="380.18" y1="479.00" x2="383.78" y2="479.00" stroke="#333" stroke-width="0.75"/>
<line x1="391.53" y1="459.00" x2="391.53" y2="481.40" stroke="#333" stroke-width="0.75"/>
<line x1="389.73" y1="459.00" x2="393.33" y2="459.00" stroke="#333" stroke-width="0.75"/>
<line x1="389.73" y1="481.40" x2="393.33" y2="481.40" stroke="#333" stroke-width="0.75"/>
<line x1="410.63" y1="432.60" x2="410.63" y2="466.90" stroke="#333" stroke-width="0.75"/>
<line x1="408.83" y1="432.60" x2="412.43" y2="432.60" stroke="#333" stroke-width="0.75"/>
<line x1="408.83" y1="466.90" x2="412.43" y2="466.90" stroke="#333" stroke-width="0.75"/>
<line x1="420.18" y1="434.60" x2="420.18" y2="464.20" stroke="#333" stroke-width="0.75"/>
<line x1="418.38" y1="434.60" x2="421.98" y2="434.60" stroke="#333" stroke-width="0.75"/>
<line x1="418.38" y1="464.20" x2="421.98" y2="464.20" stroke="#333" stroke-width="0.75"/>
<line x1="429.74" y1="423.90" x2="429.74" y2="453.50" stroke="#333" stroke-width="0.75"/>
<line x1="427.94" y1="423.90" x2="431.54" y2="423.90" stroke="#333" stroke-width="0.75"/>
<line x1="427.94" y1="453.50" x2="431.54" y2="453.50" stroke="#333" stroke-width="0.75"/>
<line x1="439.29" y1="420.30" x2="439.29" y2="452.10" stroke="#333" stroke-width="0.75"/>
<line x1="437.49" y1="420.30" x2="441.09" y2="420.30" stroke="#333" stroke-width="0.75"/>
<line x1="437.49" y1="452.10" x2="441.09" y2="452.10" stroke="#333" stroke-width="0.75"/>
<line x1="448.84" y1="408.60" x2="448.84" y2="453.30" stroke="#333" stroke-width="0.75"/>
<line x1="447.04" y1="408.60" x2="450.64" y2="408.60" stroke="#333" stroke-width="0.75"/>
<line x1="447.04" y1="453.30" x2="450.64" y2="453.30" stroke="#333" stroke-width="0.75"/>
<line x1="458.39" y1="405.00" x2="458.39" y2="449.40" stroke="#333" stroke-width="0.75"/>
<line x1="456.59" y1="405.00" x2="460.19" y2="405.00" stroke="#333" stroke-width="0.75"/>
<line x1="456.59" y1="449.40" x2="460.19" y2="449.40" stroke="#333" stroke-width="0.75"/>
<polyline points="257.80,496.10 267.35,500.32 276.90,471.29 286.46,435.69 296.01,411.89 305.56,418.14 315.11,454.93" fill="none" stroke="#000" stroke-width="2.0" stroke-linejoin="miter" stroke-dasharray="2.6 2.0"/>
<polyline points="257.80,495.76 267.35,500.49 276.90,494.41 286.46,487.66 296.01,485.13 305.56,477.54 315.11,455.26 324.66,456.61 334.22,443.11 343.77,464.54 353.32,438.39 362.87,438.56 372.42,435.86 381.98,430.46 391.53,444.63 401.08,467.41 410.63,464.21 420.18,456.78 429.74,466.91 439.29,472.81 448.84,500.15 458.39,499.14" fill="none" stroke="#000" stroke-width="2.2" stroke-linejoin="miter"/>
<polyline points="257.80,496.10 267.35,500.32 276.90,494.24 286.46,487.33 296.01,486.65 305.56,474.33 315.11,471.29 324.66,478.89 334.22,469.78 343.77,485.98 353.32,471.80 362.87,476.36 372.42,470.79 381.98,468.09 391.53,469.61 401.08,467.41 410.63,450.88 420.18,450.03 429.74,439.23 439.29,440.08 448.84,431.98 458.39,427.76" fill="none" stroke="#b0b0b0" stroke-width="2.4" stroke-linejoin="miter"/>
<polyline points="257.80,496.10 267.35,500.32 276.90,465.89 286.46,450.54 296.01,481.93 305.56,481.93" fill="none" stroke="#444" stroke-width="2.2" stroke-linejoin="miter"/>
<polygon points="305.56,474.54 308.56,477.54 305.56,480.54 302.56,477.54" fill="#000"/>
<polygon points="315.11,452.26 318.11,455.26 315.11,458.26 312.11,455.26" fill="#000"/>
<polygon points="324.66,453.61 327.66,456.61 324.66,459.61 321.66,456.61" fill="#000"/>
<polygon points="334.22,440.11 337.22,443.11 334.22,446.11 331.22,443.11" fill="#000"/>
<polygon points="343.77,461.54 346.77,464.54 343.77,467.54 340.77,464.54" fill="#000"/>
<polygon points="353.32,435.39 356.32,438.39 353.32,441.39 350.32,438.39" fill="#000"/>
<polygon points="362.87,435.56 365.87,438.56 362.87,441.56 359.87,438.56" fill="#000"/>
<polygon points="372.42,432.86 375.42,435.86 372.42,438.86 369.42,435.86" fill="#000"/>
<polygon points="381.98,427.46 384.98,430.46 381.98,433.46 378.98,430.46" fill="#000"/>
<polygon points="391.53,441.63 394.53,444.63 391.53,447.63 388.53,444.63" fill="#000"/>
<polygon points="401.08,464.41 404.08,467.41 401.08,470.41 398.08,467.41" fill="#000"/>
<polygon points="410.63,461.21 413.63,464.21 410.63,467.21 407.63,464.21" fill="#000"/>
<polygon points="420.18,453.78 423.18,456.78 420.18,459.78 417.18,456.78" fill="#000"/>
<polygon points="429.74,463.91 432.74,466.91 429.74,469.91 426.74,466.91" fill="#000"/>
<polygon points="439.29,469.81 442.29,472.81 439.29,475.81 436.29,472.81" fill="#000"/>
<polygon points="448.84,497.15 451.84,500.15 448.84,503.15 445.84,500.15" fill="#000"/>
<polygon points="458.39,496.14 461.39,499.14 458.39,502.14 455.39,499.14" fill="#000"/>
<rect x="255.20" y="493.50" width="5.20" height="5.20" fill="#b0b0b0"/>
<rect x="264.75" y="497.72" width="5.20" height="5.20" fill="#b0b0b0"/>
<rect x="274.30" y="491.64" width="5.20" height="5.20" fill="#b0b0b0"/>
<rect x="283.86" y="484.73" width="5.20" height="5.20" fill="#b0b0b0"/>
<rect x="293.41" y="484.05" width="5.20" height="5.20" fill="#b0b0b0"/>
<rect x="302.96" y="471.73" width="5.20" height="5.20" fill="#b0b0b0"/>
<rect x="312.51" y="468.69" width="5.20" height="5.20" fill="#b0b0b0"/>
<rect x="322.06" y="476.29" width="5.20" height="5.20" fill="#b0b0b0"/>
<rect x="331.62" y="467.18" width="5.20" height="5.20" fill="#b0b0b0"/>
<rect x="341.17" y="483.38" width="5.20" height="5.20" fill="#b0b0b0"/>
<rect x="350.72" y="469.20" width="5.20" height="5.20" fill="#b0b0b0"/>
<rect x="360.27" y="473.76" width="5.20" height="5.20" fill="#b0b0b0"/>
<rect x="369.82" y="468.19" width="5.20" height="5.20" fill="#b0b0b0"/>
<rect x="379.38" y="465.49" width="5.20" height="5.20" fill="#b0b0b0"/>
<rect x="388.93" y="467.01" width="5.20" height="5.20" fill="#b0b0b0"/>
<rect x="398.48" y="464.81" width="5.20" height="5.20" fill="#b0b0b0"/>
<rect x="408.03" y="448.27" width="5.20" height="5.20" fill="#b0b0b0"/>
<rect x="417.58" y="447.43" width="5.20" height="5.20" fill="#b0b0b0"/>
<rect x="427.14" y="436.63" width="5.20" height="5.20" fill="#b0b0b0"/>
<rect x="436.69" y="437.48" width="5.20" height="5.20" fill="#b0b0b0"/>
<rect x="446.24" y="429.38" width="5.20" height="5.20" fill="#b0b0b0"/>
<rect x="455.79" y="425.16" width="5.20" height="5.20" fill="#b0b0b0"/>
<polygon points="276.90,467.95 280.00,474.15 273.80,474.15" fill="#000"/>
<polygon points="286.46,432.34 289.56,438.54 283.36,438.54" fill="#000"/>
<polygon points="296.01,408.55 299.11,414.75 292.91,414.75" fill="#000"/>
<polygon points="305.56,414.79 308.66,420.99 302.46,420.99" fill="#000"/>
<circle cx="257.80" cy="496.10" r="2.9" fill="#444"/>
<circle cx="267.35" cy="500.32" r="2.9" fill="#444"/>
<circle cx="276.90" cy="465.89" r="2.9" fill="#444"/>
<circle cx="286.46" cy="450.54" r="2.9" fill="#444"/>
<circle cx="296.01" cy="481.93" r="2.9" fill="#444"/>
<circle cx="305.56" cy="481.93" r="2.9" fill="#444"/>
<line x1="259.20" y1="395.60" x2="259.20" y2="411.40" stroke="#000" stroke-width="1.6"/>
<polyline points="255.80,406.60 259.20,412.20 262.60,406.60" fill="none" stroke="#000" stroke-width="1.6" stroke-linejoin="miter"/>
<line x1="288.30" y1="395.60" x2="288.30" y2="411.40" stroke="#808080" stroke-width="1.3"/>
<polyline points="284.90,406.60 288.30,412.20 291.70,406.60" fill="none" stroke="#808080" stroke-width="1.3" stroke-linejoin="miter"/>
<line x1="366.80" y1="335.70" x2="382.60" y2="335.70" stroke="#000" stroke-width="1.8"/>
<polygon points="374.80,332.80 377.70,335.70 374.80,338.60 371.90,335.70" fill="#000"/>
<line x1="366.80" y1="348.00" x2="382.60" y2="348.00" stroke="#b0b0b0" stroke-width="1.6"/>
<rect x="372.90" y="346.10" width="3.80" height="3.80" fill="#b0b0b0"/>
<line x1="366.80" y1="358.80" x2="382.60" y2="358.80" stroke="#000" stroke-width="1.7" stroke-dasharray="2.6 2.4"/>
<polygon points="374.80,355.47 377.80,361.27 371.80,361.27" fill="#000"/>
<line x1="366.80" y1="369.00" x2="382.60" y2="369.00" stroke="#444" stroke-width="1.7"/>
<circle cx="374.80" cy="369.00" r="2.3" fill="#444"/>
<text transform="translate(387.70 338.20) scale(0.8727 1)" font-size="9.8" font-weight="bold">Dasatinib only (n=8)</text>
<text transform="translate(387.70 351.00) scale(0.8687 1)" font-size="9.8" font-weight="bold">Dasatinib + Plerixafor (n=11)</text>
<text transform="translate(387.70 361.40) scale(0.8558 1)" font-size="9.8" font-weight="bold">Mock-treated (n=7)</text>
<text transform="translate(387.70 371.60) scale(0.8625 1)" font-size="9.8" font-weight="bold">Plerixafor only (n=6)</text>
<line x1="374.80" y1="377.40" x2="374.80" y2="385.80" stroke="#000" stroke-width="1.4"/>
<polyline points="372.10,382.40 374.80,386.60 377.50,382.40" fill="none" stroke="#000" stroke-width="1.4" stroke-linejoin="miter"/>
<line x1="374.80" y1="389.60" x2="374.80" y2="398.60" stroke="#888" stroke-width="1.2"/>
<polyline points="372.10,395.20 374.80,399.40 377.50,395.20" fill="none" stroke="#888" stroke-width="1.2" stroke-linejoin="miter"/>
<text transform="translate(387.70 384.20) scale(0.8587 1)" font-size="9.8" font-weight="bold">Initiation of dasatinib treatment</text>
<text transform="translate(387.70 396.80) scale(0.8460 1)" font-size="9.8" font-weight="bold">Initiation of Plerixafor treatment</text>
<line x1="38.70" y1="556.84" x2="38.70" y2="660.00" stroke="#000" stroke-width="1.8"/>
<line x1="37.80" y1="659.00" x2="198.00" y2="659.00" stroke="#000" stroke-width="2.0"/>
<line x1="35.20" y1="659.00" x2="38.70" y2="659.00" stroke="#000" stroke-width="1.4"/>
<text transform="translate(33.40 662.00) scale(0.9168 1)" font-size="10.2" text-anchor="end">0.0</text>
<line x1="35.20" y1="633.56" x2="38.70" y2="633.56" stroke="#000" stroke-width="1.4"/>
<text transform="translate(33.40 636.86) scale(0.9168 1)" font-size="10.2" text-anchor="end">0.2</text>
<line x1="35.20" y1="608.12" x2="38.70" y2="608.12" stroke="#000" stroke-width="1.4"/>
<text transform="translate(33.40 611.42) scale(0.9168 1)" font-size="10.2" text-anchor="end">0.4</text>
<line x1="35.20" y1="582.68" x2="38.70" y2="582.68" stroke="#000" stroke-width="1.4"/>
<text transform="translate(33.40 585.98) scale(0.9168 1)" font-size="10.2" text-anchor="end">0.6</text>
<line x1="35.20" y1="557.24" x2="38.70" y2="557.24" stroke="#000" stroke-width="1.4"/>
<text transform="translate(33.40 560.54) scale(0.9168 1)" font-size="10.2" text-anchor="end">0.8</text>
<text transform="translate(16.40 601.40) rotate(-90) scale(0.9771 1)" font-size="8.9" font-weight="bold" text-anchor="middle" letter-spacing="0.7">Spleen Weight (g)</text>
<line x1="57.30" y1="608.90" x2="102.20" y2="608.90" stroke="#000" stroke-width="2.2"/>
<text transform="translate(76.70 603.80) scale(0.8960 1)" font-size="10.0" text-anchor="middle" letter-spacing="0.4">p = 0.31</text>
<line x1="58.90" y1="620.70" x2="58.90" y2="643.20" stroke="#000" stroke-width="2.2"/>
<line x1="51.60" y1="620.70" x2="66.20" y2="620.70" stroke="#000" stroke-width="2.2"/>
<rect x="45.60" y="643.30" width="26.20" height="11.80" fill="#000" stroke="#000" stroke-width="2.2"/>
<line x1="50.50" y1="656.60" x2="67.00" y2="656.60" stroke="#000" stroke-width="1.2"/>
<line x1="97.30" y1="635.10" x2="97.30" y2="651.70" stroke="#000" stroke-width="2.2"/>
<line x1="90.20" y1="635.10" x2="104.40" y2="635.10" stroke="#000" stroke-width="2.2"/>
<rect x="83.40" y="650.70" width="28.00" height="6.90" fill="#000"/>
<rect x="85.70" y="652.60" width="23.40" height="2.40" fill="#b4b4b4"/>
<line x1="133.80" y1="568.90" x2="133.80" y2="571.30" stroke="#000" stroke-width="1.9"/>
<line x1="126.50" y1="568.90" x2="141.10" y2="568.90" stroke="#000" stroke-width="1.9"/>
<line x1="133.80" y1="594.50" x2="133.80" y2="606.70" stroke="#000" stroke-width="1.9"/>
<line x1="126.50" y1="606.70" x2="141.10" y2="606.70" stroke="#000" stroke-width="1.9"/>
<rect x="120.95" y="571.25" width="26.10" height="23.30" fill="#fff" stroke="#000" stroke-width="1.9"/>
<line x1="120.95" y1="581.80" x2="147.05" y2="581.80" stroke="#000" stroke-width="1.9"/>
<line x1="172.40" y1="578.60" x2="172.40" y2="580.10" stroke="#000" stroke-width="1.9"/>
<line x1="164.90" y1="578.60" x2="179.90" y2="578.60" stroke="#000" stroke-width="1.9"/>
<line x1="172.40" y1="599.40" x2="172.40" y2="611.00" stroke="#000" stroke-width="1.9"/>
<line x1="164.90" y1="611.00" x2="179.90" y2="611.00" stroke="#000" stroke-width="1.9"/>
<rect x="159.55" y="580.05" width="26.30" height="19.40" fill="#484848" stroke="#000" stroke-width="1.9"/>
<line x1="159.55" y1="587.00" x2="185.85" y2="587.00" stroke="#000" stroke-width="1.9"/>
<text transform="translate(1.30 673.20) scale(0.8107 1)" font-size="10">Dasatinib</text>
<text transform="translate(1.30 684.30) scale(0.8428 1)" font-size="10">Plerixafor</text>
<text transform="translate(57.40 674.20)" font-size="12.0" font-weight="bold" text-anchor="middle">+</text>
<text transform="translate(57.40 684.60)" font-size="12.0" font-weight="bold" text-anchor="middle">-</text>
<text transform="translate(96.00 674.20)" font-size="12.0" font-weight="bold" text-anchor="middle">+</text>
<text transform="translate(96.00 685.30)" font-size="12.0" font-weight="bold" text-anchor="middle">+</text>
<text transform="translate(134.50 673.50)" font-size="12.0" font-weight="bold" text-anchor="middle">-</text>
<text transform="translate(134.50 684.60)" font-size="12.0" font-weight="bold" text-anchor="middle">-</text>
<text transform="translate(172.90 673.50)" font-size="12.0" font-weight="bold" text-anchor="middle">-</text>
<text transform="translate(172.90 685.30)" font-size="12.0" font-weight="bold" text-anchor="middle">+</text>
<line x1="238.70" y1="556.61" x2="238.70" y2="659.80" stroke="#000" stroke-width="1.8"/>
<line x1="237.80" y1="658.80" x2="393.00" y2="658.80" stroke="#000" stroke-width="2.0"/>
<line x1="235.20" y1="658.80" x2="238.70" y2="658.80" stroke="#000" stroke-width="1.4"/>
<text transform="translate(231.90 662.40) scale(0.9000 1)" font-size="10.2" text-anchor="middle">0</text>
<line x1="235.20" y1="624.87" x2="238.70" y2="624.87" stroke="#000" stroke-width="1.4"/>
<text transform="translate(231.90 628.47) scale(0.9000 1)" font-size="10.2" text-anchor="middle">1</text>
<line x1="235.20" y1="590.94" x2="238.70" y2="590.94" stroke="#000" stroke-width="1.4"/>
<text transform="translate(231.90 594.54) scale(0.9000 1)" font-size="10.2" text-anchor="middle">2</text>
<line x1="235.20" y1="557.01" x2="238.70" y2="557.01" stroke="#000" stroke-width="1.4"/>
<text transform="translate(231.90 560.61) scale(0.9000 1)" font-size="10.2" text-anchor="middle">3</text>
<text transform="translate(224.70 600.30) rotate(-90) scale(0.9990 1)" font-size="8.9" font-weight="bold" text-anchor="middle" letter-spacing="0.7">Liver Weight (g)</text>
<line x1="258.20" y1="602.70" x2="303.40" y2="602.70" stroke="#000" stroke-width="2.2"/>
<text transform="translate(280.20 597.70) scale(0.9086 1)" font-size="10.0" text-anchor="middle" letter-spacing="0.4">p = 0.39</text>
<line x1="259.00" y1="612.00" x2="259.00" y2="626.00" stroke="#000" stroke-width="2.2"/>
<line x1="251.40" y1="612.00" x2="266.60" y2="612.00" stroke="#000" stroke-width="2.2"/>
<line x1="259.00" y1="643.40" x2="259.00" y2="645.50" stroke="#000" stroke-width="2.2"/>
<line x1="251.40" y1="645.50" x2="266.60" y2="645.50" stroke="#000" stroke-width="2.2"/>
<rect x="246.10" y="626.10" width="25.60" height="17.20" fill="#000" stroke="#000" stroke-width="2.2"/>
<line x1="297.80" y1="625.30" x2="297.80" y2="633.80" stroke="#000" stroke-width="2.2"/>
<line x1="290.70" y1="625.30" x2="304.90" y2="625.30" stroke="#000" stroke-width="2.2"/>
<line x1="297.80" y1="640.20" x2="297.80" y2="644.50" stroke="#000" stroke-width="2.2"/>
<line x1="290.70" y1="644.50" x2="304.90" y2="644.50" stroke="#000" stroke-width="2.2"/>
<rect x="283.40" y="632.80" width="27.80" height="8.40" fill="#000"/>
<rect x="285.40" y="635.10" width="23.80" height="3.20" fill="#c4c4c4"/>
<line x1="334.90" y1="562.40" x2="334.90" y2="567.70" stroke="#000" stroke-width="1.9"/>
<line x1="327.40" y1="562.40" x2="342.40" y2="562.40" stroke="#000" stroke-width="1.9"/>
<line x1="334.90" y1="596.90" x2="334.90" y2="615.70" stroke="#000" stroke-width="1.9"/>
<line x1="327.40" y1="615.70" x2="342.40" y2="615.70" stroke="#000" stroke-width="1.9"/>
<rect x="322.15" y="567.65" width="25.40" height="29.30" fill="#fff" stroke="#000" stroke-width="1.9"/>
<line x1="322.15" y1="580.20" x2="347.55" y2="580.20" stroke="#000" stroke-width="1.9"/>
<line x1="373.40" y1="568.30" x2="373.40" y2="574.30" stroke="#000" stroke-width="1.9"/>
<line x1="366.10" y1="568.30" x2="380.70" y2="568.30" stroke="#000" stroke-width="1.9"/>
<line x1="373.40" y1="595.90" x2="373.40" y2="599.30" stroke="#000" stroke-width="1.9"/>
<line x1="366.10" y1="599.30" x2="380.70" y2="599.30" stroke="#000" stroke-width="1.9"/>
<rect x="360.55" y="574.25" width="25.70" height="21.70" fill="#484848" stroke="#000" stroke-width="1.9"/>
<line x1="360.55" y1="576.80" x2="386.25" y2="576.80" stroke="#000" stroke-width="1.9"/>
<text transform="translate(202.80 672.80) scale(0.8155 1)" font-size="10">Dasatinib</text>
<text transform="translate(202.80 683.90) scale(0.8405 1)" font-size="10">Plerixafor</text>
<text transform="translate(259.00 673.80)" font-size="12.0" font-weight="bold" text-anchor="middle">+</text>
<text transform="translate(259.00 684.20)" font-size="12.0" font-weight="bold" text-anchor="middle">-</text>
<text transform="translate(297.50 673.80)" font-size="12.0" font-weight="bold" text-anchor="middle">+</text>
<text transform="translate(297.50 684.90)" font-size="12.0" font-weight="bold" text-anchor="middle">+</text>
<text transform="translate(335.40 673.10)" font-size="12.0" font-weight="bold" text-anchor="middle">-</text>
<text transform="translate(335.40 684.20)" font-size="12.0" font-weight="bold" text-anchor="middle">-</text>
<text transform="translate(373.80 673.10)" font-size="12.0" font-weight="bold" text-anchor="middle">-</text>
<text transform="translate(373.80 684.90)" font-size="12.0" font-weight="bold" text-anchor="middle">+</text>
</svg>
</body>
</html>
